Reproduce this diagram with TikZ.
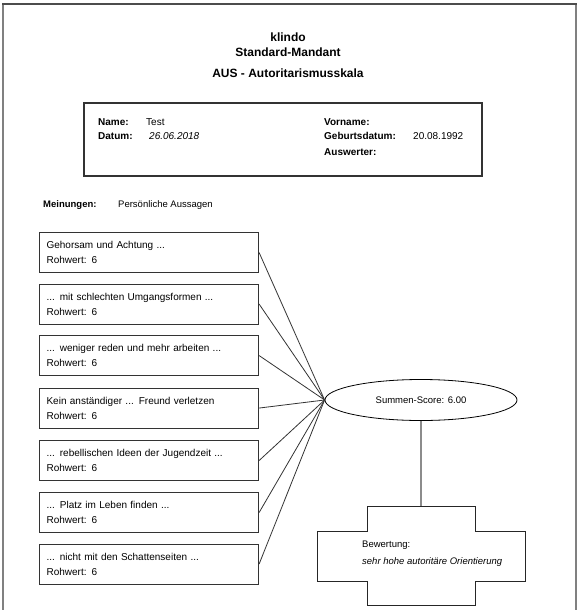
\documentclass[tikz,border=0pt]{standalone}
\usepackage{fontspec}
\setmainfont{Liberation Sans}
\usetikzlibrary{shapes.geometric}
\begin{document}
\begin{tikzpicture}[x=1pt,y=-1pt,
  titletext/.style={font=\bfseries\fontsize{12}{14}\selectfont, inner sep=0pt},
  lbl/.style={font=\bfseries\fontsize{10}{12}\selectfont, anchor=west, inner sep=0pt},
  val/.style={font=\fontsize{10}{12}\selectfont, anchor=west, inner sep=0pt},
  small/.style={font=\fontsize{9.5}{12}\selectfont, anchor=west, inner sep=0pt},
  itembox/.style={draw=black!80, line width=1.1pt, anchor=north west, minimum width=219pt, minimum height=40pt,
    inner xsep=7pt, inner ysep=0pt, text width=205pt, align=left, font=\fontsize{10}{15}\selectfont},
  conn/.style={draw=black!80, line width=0.8pt},
  ell/.style={ellipse, draw=black, line width=0.8pt, minimum width=192pt, minimum height=41pt, inner sep=0pt,
    font=\fontsize{9.5}{12}\selectfont},
  frame/.style={draw=black!50, line width=2pt}
]
\useasboundingbox (0,0) rectangle (578,610);
% page frame
\draw[frame] (3,612) -- (3,4) -- (576,4) -- (576,612);
\draw[draw=black!70, line width=2.5pt] (2,4) -- (577,4);

% title
\node[titletext] (t1) at (288,37) {klindo};
\node[titletext] (t2) at (288,52) {Standard-Mandant};
\node[titletext] (t3) at (288,73) {AUS - Autoritarismusskala};

% info box
\node[draw=black!80, line width=1.1pt, minimum width=398pt, minimum height=73pt, inner sep=0pt] (info) at (283,139.5) {};
\node[lbl] (nameL) at (98,122) {Name:};
\node[val] (nameV) at (146,122) {Test};
\node[lbl] (datL) at (98,136) {Datum:};
\node[val, font=\itshape\fontsize{10}{12}\selectfont] (datV) at (149,136) {26.06.2018};
\node[lbl] (vorL) at (324,122) {Vorname:};
\node[lbl] (gebL) at (324,136) {Geburtsdatum:};
\node[val] (gebV) at (413,136) {20.08.1992};
\node[lbl] (ausL) at (324,152) {Auswerter:};

% Meinungen
\node[small, font=\bfseries\fontsize{9.5}{12}\selectfont] (mL) at (43,205) {Meinungen:};
\node[small] (mV) at (118,205) {Persönliche Aussagen};

% items
\node[itembox] (b1) at (39,232) {Gehorsam und Achtung ...\\Rohwert: 6};
\node[itembox] (b2) at (39,283.5) {... mit schlechten Umgangsformen ...\\Rohwert: 6};
\node[itembox] (b3) at (39,335) {... weniger reden und mehr arbeiten ...\\Rohwert: 6};
\node[itembox] (b4) at (39,387.5) {Kein anständiger ... Freund verletzen\\Rohwert: 6};
\node[itembox] (b5) at (39,440) {... rebellischen Ideen der Jugendzeit ...\\Rohwert: 6};
\node[itembox] (b6) at (39,492) {... Platz im Leben finden ...\\Rohwert: 6};
\node[itembox] (b7) at (39,543.5) {... nicht mit den Schattenseiten ...\\Rohwert: 6};

% summary ellipse
\node[ell] (sum) at (421,400) {Summen-Score: 6.00};

\foreach \b in {b1,b2,b3,b4,b5,b6,b7}
  \draw[conn] (\b.east) -- (sum.west);

% cross shape
\coordinate (ctop) at (421,506);
\draw[black!85, line width=0.9pt] (367,506) -- (475,506) -- (475,531) -- (525,531) -- (525,581)
  -- (475,581) -- (475,605) -- (367,605) -- (367,581) -- (317,581) -- (317,531) -- (367,531) -- cycle;
\draw[draw=black!45, line width=1.5pt] (sum.south) -- (ctop);
\node[val, font=\fontsize{9.5}{12}\selectfont] (bewL) at (362,545) {Bewertung:};
\node[val, font=\itshape\fontsize{9.5}{12}\selectfont] (bewV) at (362,562) {sehr hohe autoritäre Orientierung};
\end{tikzpicture}
\end{document}
